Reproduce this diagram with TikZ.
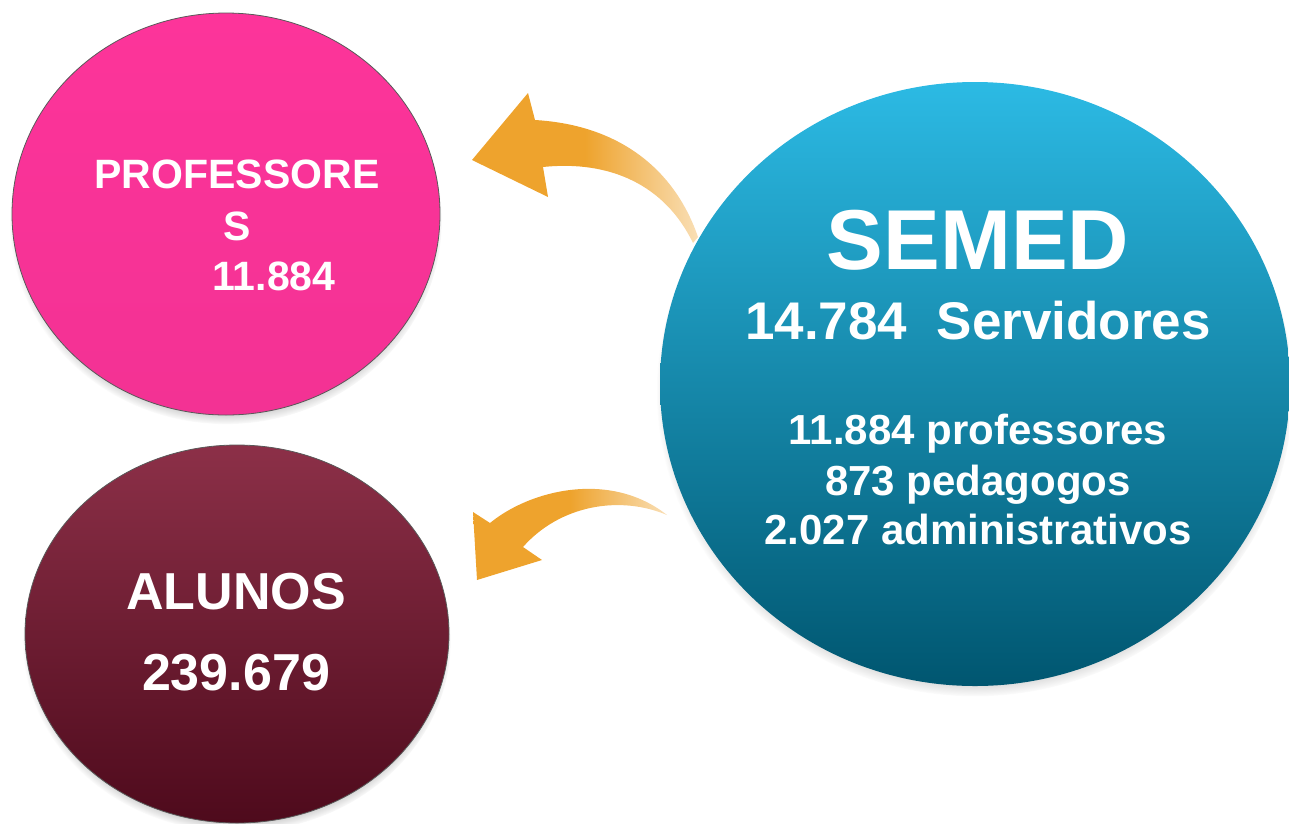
\documentclass[tikz,border=0pt]{standalone}
\usepackage{fontspec}
\setmainfont{Liberation Sans}
\usetikzlibrary{shapes.geometric,shadows,fadings,positioning}
\definecolor{ProfClr}{RGB}{253,52,154}
\definecolor{AlunTopClr}{RGB}{140,48,72}
\definecolor{AlunBotClr}{RGB}{78,10,28}
\definecolor{SemedTopClr}{RGB}{44,186,228}
\definecolor{SemedBotClr}{RGB}{0,86,112}
\definecolor{ArrowClr}{RGB}{238,163,45}

\tikzset{
  disc/.style={ellipse,inner sep=0pt,
    circular drop shadow={shadow xshift=0pt,shadow yshift=-7pt,shadow scale=1.01}},
  rim/.style={draw=black!65,line width=0.8pt},
  txt/.style={text=white,font=\bfseries,anchor=base,inner sep=0pt},
  fadearrow/.style={left color=ArrowClr,right color=ArrowClr!35,middle color=ArrowClr},
}
\newcommand{\fsz}[1]{\fontsize{#1}{#1}\selectfont}

\begin{document}
\begin{tikzpicture}[x=1pt,y=-1pt]
\useasboundingbox (0,0) rectangle (1289,823);

% curved arrows
\shade[fadearrow] (472,160) -- (528,93) -- (535,120)
  .. controls (620,125) and (675,170) .. (698,237) -- (693,243)
  .. controls (665,185) and (610,160) .. (543,167) -- (548,197) -- cycle;
\shade[fadearrow] (477,580) -- (473,512) -- (490,523)
  .. controls (530,490) and (610,470) .. (667,515)
  .. controls (620,495) and (560,505) .. (523,547) -- (542,560) -- cycle;

% discs
\node[disc,rim,top color=ProfClr,bottom color=ProfClr!96!black,
  minimum width=428pt,minimum height=402pt] (prof) at (226,214) {};
\node[disc,rim,top color=AlunTopClr,bottom color=AlunBotClr,
  minimum width=424pt,minimum height=378pt] (alun) at (237,634) {};
\node[disc,top color=SemedTopClr,bottom color=SemedBotClr,
  minimum width=630pt,minimum height=604pt] (semed) at (975,384) {};

% texts
\node[txt,font=\bfseries\fsz{41}] (profA) at (237,188) {PROFESSORE};
\node[txt,font=\bfseries\fsz{41}] (profB) at (237,240) {S};
\node[txt,font=\bfseries\fsz{41}] (profN) at (274,290) {11.884};

\node[txt,font=\bfseries\fsz{52}] (alunA) at (236,609) {ALUNOS};
\node[txt,font=\bfseries\fsz{52}] (alunN) at (236,690) {239.679};

\node[txt,font=\bfseries\fsz{85}] (semA) at (978,269) {SEMED};
\node[txt,font=\bfseries\fsz{53}] (semB) at (978,339) {14.784\ \ Servidores};
\node[txt,font=\bfseries\fsz{42}] (semC) at (978,444) {11.884 professores};
\node[txt,font=\bfseries\fsz{42}] (semD) at (978,495) {873 pedagogos};
\node[txt,font=\bfseries\fsz{42}] (semE) at (978,544) {2.027 administrativos};

\end{tikzpicture}
\end{document}
